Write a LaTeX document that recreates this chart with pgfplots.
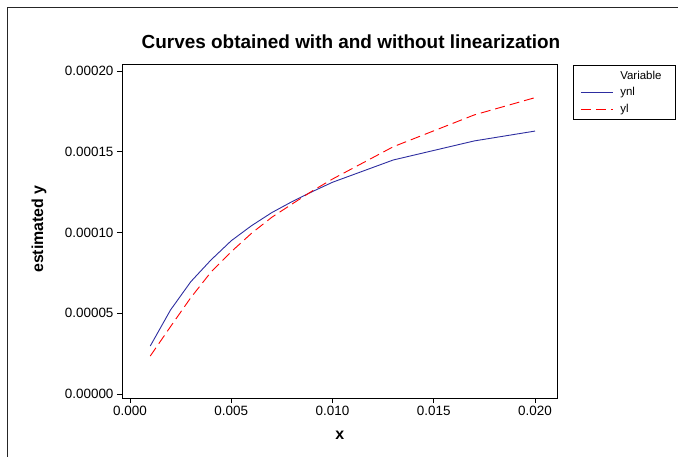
\documentclass[border=0pt]{standalone}
\usepackage{pgfplots}
\pgfplotsset{compat=1.18}
\usepackage{fontspec}
\setmainfont{Liberation Sans}
\definecolor{ynlc}{RGB}{45,45,160}
\definecolor{ylc}{RGB}{255,0,0}
\begin{document}
\begin{tikzpicture}
\begin{axis}[
  at={(0,0)}, anchor=south west,
  scale only axis, width=435.5bp, height=334bp,
  xmin=-0.000395, xmax=0.02111,
  ymin=-0.00000248, ymax=0.00020433,
  xtick={0,0.005,0.010,0.015,0.020},
  ytick={0,0.00005,0.0001,0.00015,0.0002},
  scaled ticks=false,
  xticklabel style={/pgf/number format/.cd, fixed, fixed zerofill, precision=3, assume math mode=true},
  yticklabel style={/pgf/number format/.cd, fixed, fixed zerofill, precision=5, assume math mode=true},
  tick label style={font=\fontsize{13.5}{16}\selectfont},
  tick align=outside, tick pos=left,
  major tick length=5bp,
  every tick/.style={black, line width=0.8bp},
  axis line style={line width=0.8bp},
  xlabel={\textbf{x}},
  ylabel={\textbf{estimated y}},
  label style={font=\fontsize{16}{18}\selectfont},
  xlabel style={at={(rel axis cs:0.5,-0.1108)}, anchor=center},
  ylabel style={at={(rel axis cs:-0.1906,0.506)}, anchor=center},
  legend style={at={(rel axis cs:1.0356,0.997)}, anchor=north west,
    draw=black, line width=0.8bp, font=\fontsize{11.5}{13.8}\selectfont,
    inner xsep=7bp, inner ysep=3.5bp, row sep=3bp},
  legend cell align=left,
  legend image code/.code={\draw[#1] (0bp,0bp) -- (32bp,0bp);},
]
\addlegendimage{empty legend}
\addlegendentry{\hspace{5bp}\makebox[46bp][l]{Variable}}
\addplot[ynlc, line width=0.9bp] coordinates {
(0.001,0.0000297) (0.002,0.0000520) (0.003,0.0000695) (0.004,0.0000830)
(0.005,0.0000949) (0.006,0.0001042) (0.007,0.0001123) (0.008,0.0001191)
(0.009,0.0001253) (0.010,0.0001311) (0.013,0.0001449) (0.017,0.0001567)
(0.020,0.0001628)};
\addlegendentry{\hspace{5bp}ynl}
\addplot[ylc, line width=0.9bp, dash pattern=on 10bp off 5bp] coordinates {
(0.001,0.0000235) (0.002,0.0000417) (0.003,0.0000596) (0.004,0.0000755)
(0.005,0.0000881) (0.006,0.0000995) (0.007,0.0001094) (0.008,0.0001176)
(0.009,0.0001257) (0.010,0.0001331) (0.013,0.0001531) (0.017,0.0001728)
(0.020,0.0001835)};
\addlegendentry{\hspace{5bp}yl}
\end{axis}
\node[font=\bfseries\fontsize{19}{22}\selectfont] at (229bp,356bp) {Curves obtained with and without linearization};
\draw[line width=0.8bp, black!85] (-114.5bp,-59bp) -- (-114.5bp,390.5bp) -- (556bp,390.5bp);
\pgfresetboundingbox
\useasboundingbox (-122bp,-59bp) rectangle (556bp,398bp);
\end{tikzpicture}
\end{document}
